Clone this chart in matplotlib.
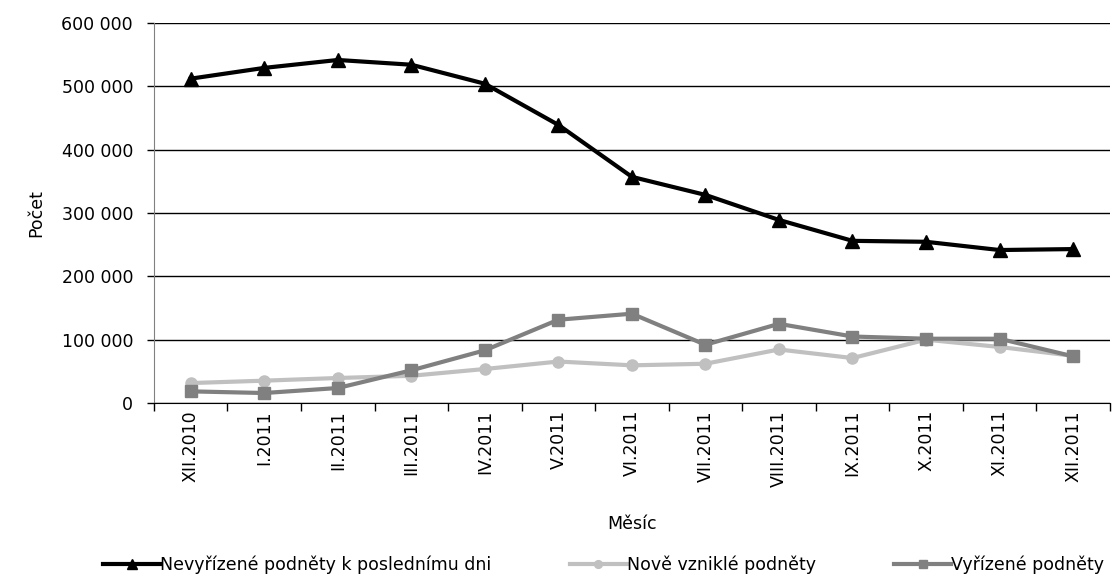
#!/usr/local/bin/python3
"""Monthly counts of complaints (podnety) Dec 2010 - Dec 2011"""

import numpy as np
import matplotlib.pyplot as plt
from matplotlib.ticker import FuncFormatter, FixedLocator

# DATA
months = ["XII.2010", "I.2011", "II.2011", "III.2011", "IV.2011", "V.2011",
          "VI.2011", "VII.2011", "VIII.2011", "IX.2011", "X.2011", "XI.2011",
          "XII.2011"]
nevyrizene = [512000, 529000, 541500, 534000, 504000, 439000, 357000,
              328500, 289000, 256000, 254500, 241500, 243000]
nove = [31500, 35300, 39500, 43000, 53700, 65500, 59500, 62000, 84500,
        71000, 100000, 88500, 74500]
vyrizene = [18400, 15800, 23700, 51600, 83200, 131500, 141000, 92000,
            125000, 105000, 101500, 101500, 73700]
# END DATA

plt.rcParams['font.family'] = ['DejaVu Sans']

fig = plt.figure(figsize=(11.18, 5.83), dpi=100)
ax = fig.add_axes([0.1377, 0.3087, 0.855, 0.652])

x = np.arange(len(months))
ax.plot(x, nevyrizene, color="black", lw=3, marker="^", ms=10,
        label="Nevyřízené podněty k poslednímu dni", zorder=5)
ax.plot(x, nove, color="#c0c0c0", lw=3, marker="o", ms=8,
        label="Nově vzniklé podněty", zorder=3)
ax.plot(x, vyrizene, color="#808080", lw=3, marker="s", ms=9,
        label="Vyřízené podněty", zorder=4)

ax.set_xlim(-0.5, len(months) - 0.5)
ax.set_ylim(0, 600000)
ax.set_yticks(np.arange(0, 600001, 100000))
ax.yaxis.set_major_formatter(FuncFormatter(lambda v, p: "{:,}".format(int(v)).replace(",", " ")))
ax.yaxis.grid(True, color="black", lw=1)
ax.set_axisbelow(True)

ax.set_xticks(x)
ax.set_xticklabels(months, rotation=90, fontsize=12.5)
ax.tick_params(axis="x", which="major", length=0, pad=5)
ax.xaxis.set_minor_locator(FixedLocator(np.arange(-0.5, len(months), 1.0)))
ax.tick_params(axis="x", which="minor", length=6, color="black", width=1)
ax.tick_params(axis="y", labelsize=12.5, length=5, width=1, color="black", pad=10)

for side in ["top", "right"]:
    ax.spines[side].set_visible(False)
ax.spines["left"].set_color("#808080")
ax.spines["bottom"].set_color("black")

ax.set_ylabel("Počet", fontsize=12.5, labelpad=12)
ax.set_xlabel("Měsíc", fontsize=12.5, labelpad=20)

fig.legend(loc="center", bbox_to_anchor=(0.54, 0.032), ncol=3, frameon=False,
           fontsize=12.5, handlelength=3.3, handletextpad=0.0, columnspacing=4.5,
           markerscale=0.7)

plt.savefig("out.png", dpi=100)
